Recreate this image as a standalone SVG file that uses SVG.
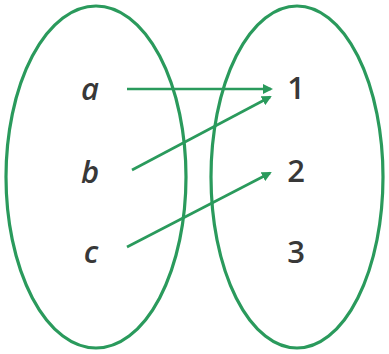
<svg xmlns="http://www.w3.org/2000/svg" width="389" height="354" viewBox="0 0 389 354">
<style>
.set{fill:none;stroke:#2a9a5c;stroke-width:3.2}
.arr{stroke:#2a9a5c;stroke-width:2.6;fill:none;marker-end:url(#ah)}
.lbl{font-family:"Open Sans","DejaVu Sans",sans-serif;font-size:31px;font-weight:600;fill:#383838;text-anchor:middle}
.it{font-style:italic}
</style>
<defs>
<marker id="ah" markerWidth="10" markerHeight="10" refX="8" refY="5" orient="auto" markerUnits="userSpaceOnUse"><path d="M0,0 L10,5 L0,10 Z" fill="#2a9a5c"/></marker>
</defs>
<rect width="389" height="354" fill="#fff"/>
<g id="setA"><ellipse class="set" cx="96" cy="177" rx="90" ry="171"/></g>
<g id="setB"><ellipse class="set" cx="297" cy="177" rx="86" ry="171"/></g>
<g id="node-a"><text class="lbl it" x="90" y="100">a</text></g>
<g id="node-b"><text class="lbl it" x="90" y="183">b</text></g>
<g id="node-c"><text class="lbl it" x="91" y="263">c</text></g>
<g id="node-1"><text class="lbl" x="296" y="99">1</text></g>
<g id="node-2"><text class="lbl" x="296" y="182">2</text></g>
<g id="node-3"><text class="lbl" x="296" y="263">3</text></g>
<g id="connectors">
<line class="arr" x1="127" y1="89" x2="271" y2="89"/>
<line class="arr" x1="132" y1="170" x2="270" y2="97"/>
<line class="arr" x1="127" y1="247" x2="270" y2="173"/>
</g>
</svg>
